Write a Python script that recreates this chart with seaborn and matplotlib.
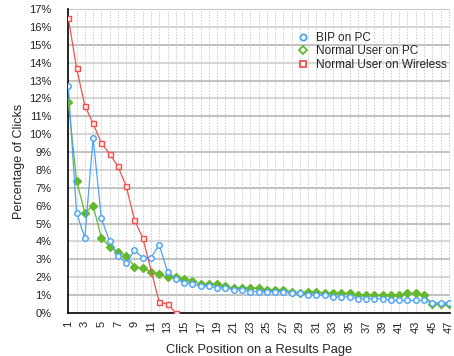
import numpy as np
import pandas as pd
import matplotlib
matplotlib.use("Agg")
import matplotlib.pyplot as plt
import seaborn as sns
from matplotlib.ticker import FuncFormatter
from matplotlib.lines import Line2D

positions = list(range(1, 48))
bip_pc = [12.7, 5.6, 4.2, 9.8, 5.3, 4.0, 3.2, 2.8, 3.5, 3.1, 3.1, 3.8, 2.3, 1.9, 1.7,
          1.6, 1.5, 1.5, 1.4, 1.4, 1.3, 1.3, 1.2, 1.2, 1.2, 1.2, 1.2, 1.1, 1.1, 1.0,
          1.0, 1.0, 0.9, 0.9, 0.9, 0.8, 0.8, 0.8, 0.8, 0.7, 0.7, 0.7, 0.7, 0.7, 0.57,
          0.57, 0.57]
normal_pc = [11.8, 7.4, 5.6, 6.0, 4.2, 3.7, 3.4, 3.2, 2.6, 2.5, 2.3, 2.2, 2.0, 2.0, 1.9,
             1.8, 1.6, 1.6, 1.6, 1.5, 1.4, 1.4, 1.4, 1.4, 1.3, 1.3, 1.3, 1.2, 1.1, 1.2,
             1.2, 1.1, 1.1, 1.1, 1.1, 1.0, 1.0, 1.0, 1.0, 1.0, 1.0, 1.1, 1.1, 1.0, 0.5,
             0.5, 0.5]
wireless_pos = list(range(1, 15))
normal_wireless = [16.5, 13.7, 11.6, 10.6, 9.5, 8.9, 8.2, 7.1, 5.2, 4.2, np.nan, 0.6, 0.5, 0.0]

labels = ["BIP on PC", "Normal User on PC", "Normal User on Wireless"]
y_ticks = list(range(0, 18))
x_tick_labels = list(range(1, 48, 2))

sns.set_style("white")
plt.rcParams['font.family'] = ['Liberation Sans', 'DejaVu Sans']

fig = plt.figure(figsize=(4.54, 3.56), dpi=100)
ax = fig.add_axes([0.1504, 0.1208, 0.8400, 0.8539])

blue = "#4da3f5"
green = "#63b82e"
red = "#f25050"

df_b = pd.DataFrame({"pos": positions, "val": bip_pc})
df_g = pd.DataFrame({"pos": positions, "val": normal_pc})
df_r = pd.DataFrame({"pos": wireless_pos, "val": normal_wireless})

sns.lineplot(data=df_b, x="pos", y="val", ax=ax, color=blue, lw=0.9, marker="o",
             markersize=4, markerfacecolor="#eaf4ff", markeredgecolor=blue,
             markeredgewidth=1.0, label=labels[0], zorder=4)
sns.lineplot(data=df_g, x="pos", y="val", ax=ax, color=green, lw=0.9, marker="D",
             markersize=3.6, markerfacecolor=green, markeredgecolor=green,
             markeredgewidth=1.0, label=labels[1], zorder=3)
sns.lineplot(data=df_r, x="pos", y="val", ax=ax, color=red, lw=0.9, marker="s",
             markersize=3.6, markerfacecolor="#ffeaea", markeredgecolor=red,
             markeredgewidth=1.0, label=labels[2], zorder=5)

ax.set_xlim(1, 47.1)
ax.set_ylim(0, 17)
ax.set_yticks(y_ticks)
ax.yaxis.set_major_formatter(FuncFormatter(lambda v, p: f"{int(v)}%"))
ax.set_xticks(positions)
ax.set_xticklabels([str(p) if p in x_tick_labels else "" for p in positions],
                   rotation=90, fontsize=8)
ax.tick_params(axis="y", labelsize=8, length=2, width=0.6, pad=10, colors="#222222")
ax.tick_params(axis="x", length=2.5, width=0.8, pad=3, colors="#222222")

for v in y_ticks[1:]:
    ax.axhline(v, color="#b8b8b8" if v % 2 else "#d0d0d0", lw=1.2, zorder=1)
for p in positions[1:]:
    ax.axvline(p, color="#cccccc", lw=0.7, ls=(0, (1.5, 1.5)), zorder=1)

for s in ["top", "right"]:
    ax.spines[s].set_visible(False)
for s in ["left", "bottom"]:
    ax.spines[s].set_color("black")
    ax.spines[s].set_linewidth(1.2)

ax.set_xlabel("Click Position on a Results Page", fontsize=9.3, labelpad=8)
ax.set_ylabel("Percentage of Clicks", fontsize=9.0, labelpad=3)

hs = [Line2D([], [], ls="none", marker="o", markersize=4.5, markerfacecolor="white",
             markeredgecolor=blue, markeredgewidth=1.3),
      Line2D([], [], ls="none", marker="D", markersize=4.5, markerfacecolor="white",
             markeredgecolor=green, markeredgewidth=1.3),
      Line2D([], [], ls="none", marker="s", markersize=4.5, markerfacecolor="white",
             markeredgecolor=red, markeredgewidth=1.3)]
ax.legend(hs, labels, loc="upper left", bbox_to_anchor=(0.585, 0.94), frameon=False,
          fontsize=8.5, handletextpad=0.45, labelspacing=0.12, handlelength=1.2,
          borderaxespad=0)

fig.savefig("out.png", dpi=100)
